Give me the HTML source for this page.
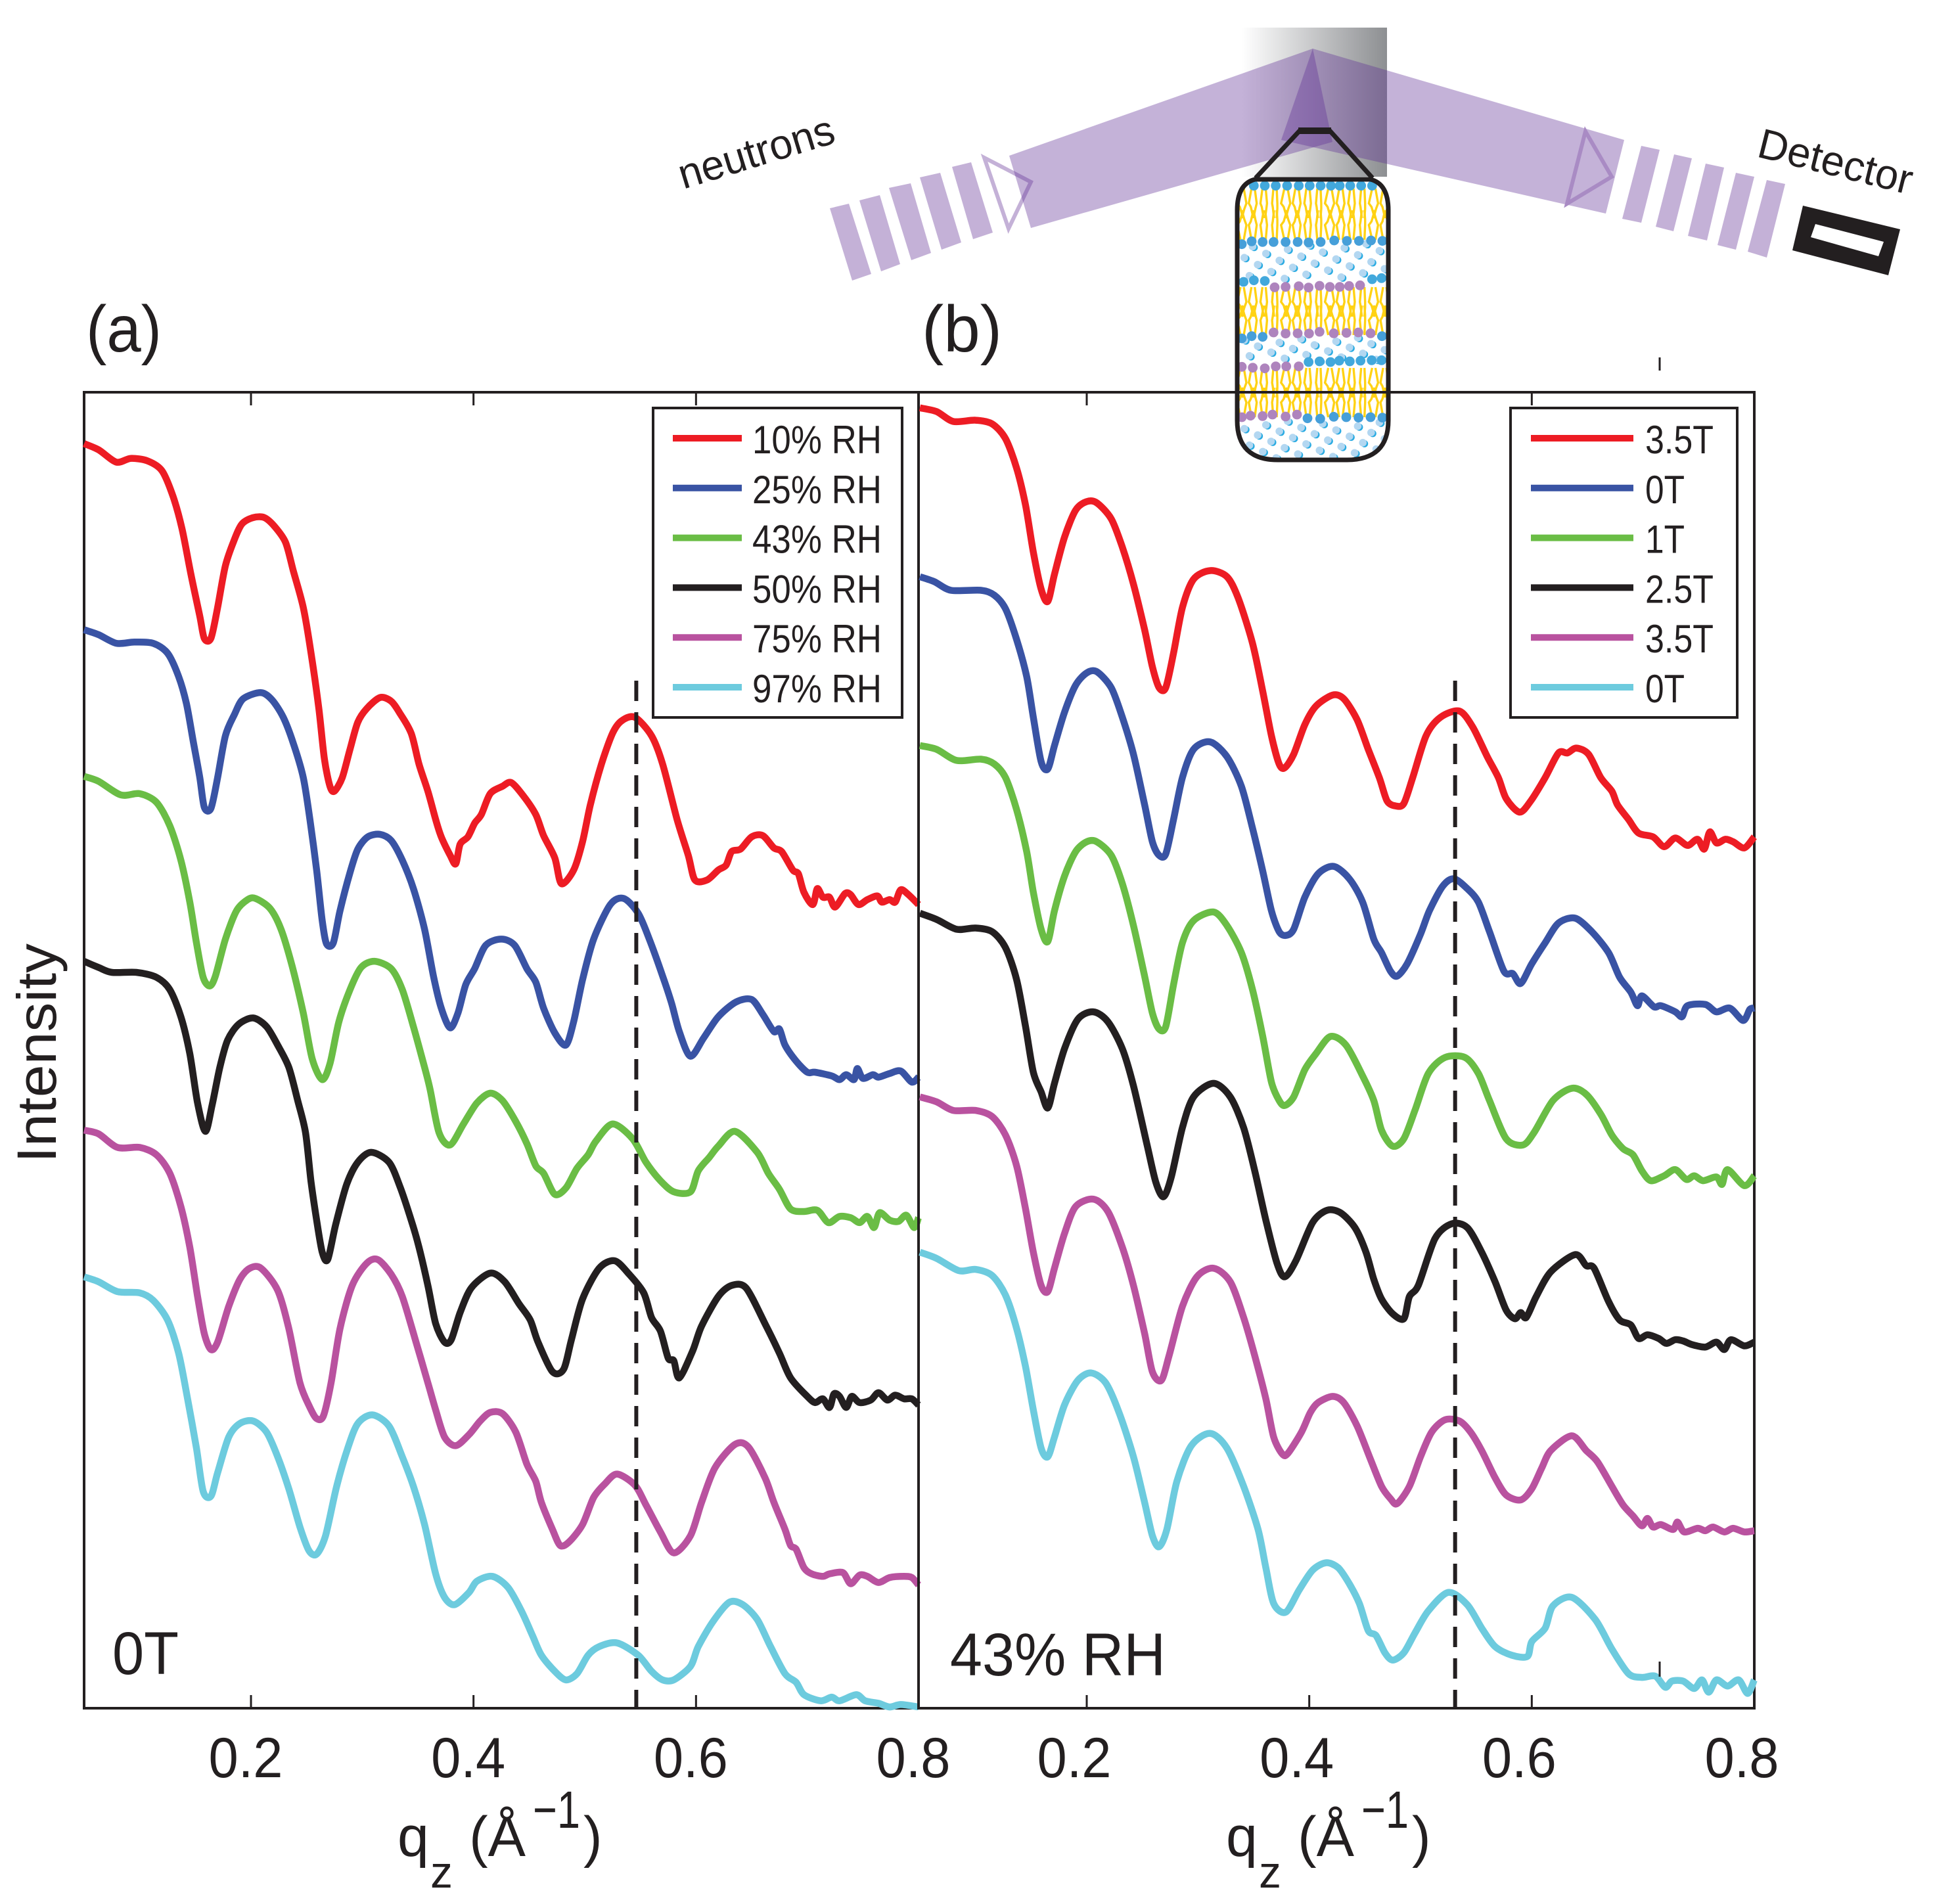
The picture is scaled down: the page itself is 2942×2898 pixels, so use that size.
<!DOCTYPE html>
<html lang="en">
<head>
<meta charset="utf-8">
<title>Neutron reflectivity curves</title>
<style>
html,body{margin:0;padding:0;background:#fff;}
svg{display:block;}
text{font-family:"Liberation Sans",sans-serif;fill:#231f20;}
</style>
</head>
<body>
<svg id="fig" xmlns="http://www.w3.org/2000/svg" width="2942" height="2898" viewBox="0 0 2942 2898">
<defs>
<linearGradient id="substrateGrad" x1="0" x2="1" y1="0" y2="0">
<stop offset="0" stop-color="#ffffff"/>
<stop offset="1" stop-color="#8d8f92"/>
</linearGradient>
<clipPath id="capsuleClip"><path d="M1910,273 L2086,273 Q2113,280 2113,320 L2113,640 Q2113,700 2050,700 L1945,700 Q1883,700 1883,640 L1883,320 Q1883,280 1910,273 Z"/></clipPath>
</defs>

<g id="panel-a"></g>
<g id="panel-b"></g>

<g>
<rect x="994" y="621" width="379" height="471" fill="#fff" stroke="#231f20" stroke-width="4"/>
<g id="legend-a-entries"></g>
</g>
<g>
<rect x="2299" y="621" width="345" height="471" fill="#fff" stroke="#231f20" stroke-width="4"/>
<g id="legend-b-entries"></g>
</g>

<text x="131" y="535" font-size="100" textLength="115" lengthAdjust="spacingAndGlyphs">(a)</text>
<text x="1403" y="535" font-size="100" textLength="122" lengthAdjust="spacingAndGlyphs">(b)</text>
<text x="171" y="2548" font-size="92" textLength="101" lengthAdjust="spacingAndGlyphs">0T</text>
<text x="1446" y="2550" font-size="92" textLength="328" lengthAdjust="spacingAndGlyphs">43% RH</text>
<text transform="translate(85,1770) rotate(-90)" font-size="84" textLength="334" lengthAdjust="spacingAndGlyphs">Intensity</text>

<g>
<text x="605" y="2825" font-size="86">q</text>
<text x="655" y="2873" font-size="68">z</text>
<text x="714" y="2825" font-size="86">(Å</text>
<text x="811" y="2782" font-size="80" textLength="72" lengthAdjust="spacingAndGlyphs">−1</text>
<text x="888" y="2825" font-size="86">)</text>
</g>
<g>
<text x="1866" y="2825" font-size="86">q</text>
<text x="1916" y="2873" font-size="68">z</text>
<text x="1975" y="2825" font-size="86">(Å</text>
<text x="2072" y="2782" font-size="80" textLength="72" lengthAdjust="spacingAndGlyphs">−1</text>
<text x="2149" y="2825" font-size="86">)</text>
</g>

<line x1="2526" x2="2526" y1="544" y2="564" stroke="#231f20" stroke-width="3"/>
<line x1="2526" x2="2526" y1="2529" y2="2552" stroke="#231f20" stroke-width="3"/>

<g id="schematic">
<rect x="1890" y="42" width="221" height="227" fill="url(#substrateGrad)"/>
<g fill="#c4b1d7">
<polygon points="1263,317 1292,310 1326,417 1297,427"/>
<polygon points="1308,305 1339,297 1370,402 1341,413"/>
<polygon points="1353,286 1386,279 1417,385 1387,396"/>
<polygon points="1400,270 1431,263 1463,369 1433,380"/>
<polygon points="1449,254 1478,247 1511,354 1481,364"/>
</g>
<polygon points="1498,240 1569,277 1535,348" fill="#fff" stroke="#c4b1d7" stroke-width="6"/>
<polygon points="1536,237 1998,74 2028,216 1569,347" fill="#5f2f96" fill-opacity="0.37"/>
<polygon points="1998,74 2472,213 2444,325 1950,213" fill="#5f2f96" fill-opacity="0.37"/>
<polygon points="2413,200 2453,269 2385,310" fill="none" stroke="#a98bc4" stroke-width="6"/>
<g fill="#c4b1d7">
<polygon points="2498,222 2526,228 2498,339 2469,333"/>
<polygon points="2548,235 2575,241 2547,352 2520,345"/>
<polygon points="2596,249 2624,255 2598,366 2569,359"/>
<polygon points="2642,263 2670,269 2642,380 2614,373"/>
<polygon points="2689,274 2717,280 2689,392 2660,383"/>
</g>
<polygon points="2744,313 2892,349 2874,419 2728,381" fill="#231f20"/>
<polygon points="2763,341 2867,368 2859,390 2756,361" fill="#fff"/>
<text transform="translate(1040,288) rotate(-17)" font-size="64" textLength="245" lengthAdjust="spacingAndGlyphs">neutrons</text>
<text transform="translate(2672,238) rotate(14)" font-size="64" textLength="240" lengthAdjust="spacingAndGlyphs">Detector</text>
<polyline points="1911,271 1978,199 2024,199 2089,271" fill="none" stroke="#231f20" stroke-width="7"/>
<line x1="1976" x2="2026" y1="199" y2="199" stroke="#231f20" stroke-width="10"/>
<path d="M1910,273 L2086,273 Q2113,280 2113,320 L2113,640 Q2113,700 2050,700 L1945,700 Q1883,700 1883,640 L1883,320 Q1883,280 1910,273 Z" fill="#fff"/>
<g id="membrane" clip-path="url(#capsuleClip)"></g>
<path d="M1910,273 L2086,273 Q2113,280 2113,320 L2113,640 Q2113,700 2050,700 L1945,700 Q1883,700 1883,640 L1883,320 Q1883,280 1910,273 Z" fill="none" stroke="#231f20" stroke-width="7"/>
</g>
<line x1="128" x2="2670" y1="597" y2="597" stroke="#231f20" stroke-width="4"/>
</svg>
<script>
// ---------- panel (a): 0 T, varying humidity ----------
const qA10=[.05,.063,.079,.092,.107,.12,.13,.138,.146,.154,.158,.164,.17,.177,.185,.192,.202,.212,.221,.231,.238,.247,.254,.261,.266,.271,.275,.282,.289,.296,.304,.316,.326,.334,.344,.351,.359,.366,.371,.379,.384,.388,.395,.401,.407,.415,.426,.434,.445,.456,.463,.473,.479,.49,.498,.505,.515,.525,.533,.545,.56,.57,.583,.593,.599,.61,.62,.627,.632,.64,.65,.66,.67,.677,.687,.692,.697,.705,.709,.714,.72,.725,.734,.739,.746,.754,.763,.767,.774,.779,.784,.791,.8];
const intA10=[1026,1021,1011,1014,1012,1004,983,957,920,886,868,868,893,927,948,961,966,966,959,946,923,893,856,811,770,748,744,755,778,800,811,820,817,807,791,766,744,721,707,692,685,701,707,718,725,742,748,751,740,725,708,690,669,680,703,733,766,791,801,804,789,766,721,692,672,672,680,684,695,697,707,708,698,695,680,677,662,652,665,658,658,650,661,660,652,656,659,654,656,654,664,660,652];
const qA25=[.05,.063,.079,.095,.112,.125,.135,.142,.148,.154,.158,.164,.17,.177,.185,.193,.209,.219,.229,.238,.247,.253,.259,.264,.268,.274,.28,.289,.296,.305,.316,.326,.336,.346,.356,.364,.371,.379,.386,.393,.401,.411,.425,.437,.448,.456,.463,.473,.483,.49,.498,.508,.523,.535,.548,.558,.57,.578,.585,.595,.607,.62,.636,.65,.66,.67,.675,.68,.69,.7,.707,.722,.729,.735,.742,.745,.75,.759,.764,.774,.784,.794,.8];
const intA25=[875,871,864,865,864,856,837,815,785,755,731,730,755,789,806,819,824,818,804,783,755,721,680,639,620,621,647,678,697,707,709,704,688,665,632,594,568,552,564,587,600,619,624,619,600,589,568,548,538,557,591,624,652,657,645,624,594,572,549,529,544,561,573,575,563,549,551,538,525,516,516,513,510,514,510,519,511,514,512,515,517,508,512];
const qA43=[.05,.063,.083,.1,.115,.127,.137,.145,.151,.157,.163,.168,.177,.187,.197,.204,.217,.227,.237,.247,.255,.264,.271,.279,.289,.299,.311,.326,.336,.346,.356,.361,.369,.379,.391,.403,.415,.426,.438,.448,.456,.463,.473,.483,.493,.503,.51,.525,.543,.555,.568,.58,.595,.602,.612,.62,.635,.655,.665,.675,.685,.697,.709,.719,.729,.739,.747,.754,.76,.765,.774,.782,.789,.796,.8];
const intA43=[756,752,741,742,735,716,688,654,621,593,586,594,624,647,656,657,649,632,602,564,527,510,523,557,583,601,606,600,583,553,520,502,467,457,474,491,499,493,476,458,440,434,417,422,438,449,460,474,462,443,428,419,419,436,447,456,468,451,434,421,405,403,404,394,399,398,394,399,390,402,396,395,400,390,398];
const qA50=[.05,.063,.075,.097,.115,.127,.137,.145,.152,.159,.165,.172,.179,.189,.202,.214,.224,.234,.242,.249,.254,.259,.264,.269,.276,.286,.296,.308,.324,.334,.344,.351,.359,.366,.374,.38,.388,.398,.415,.428,.441,.451,.458,.471,.481,.488,.498,.513,.527,.54,.553,.56,.568,.575,.58,.585,.597,.605,.62,.632,.645,.662,.675,.685,.7,.707,.714,.72,.724,.729,.735,.74,.747,.757,.764,.772,.779,.787,.794,.8];
const intA50=[606,601,597,597,593,583,561,531,491,468,489,520,542,555,560,553,538,520,493,467,427,396,370,364,392,425,443,451,443,423,396,374,343,312,297,299,321,341,353,346,328,315,297,273,275,299,332,357,363,352,337,317,306,284,282,268,290,310,334,343,341,312,288,268,253,248,251,244,255,253,244,253,248,250,256,250,254,251,251,246];
const qA75=[.05,.063,.08,.1,.115,.127,.137,.145,.152,.158,.164,.17,.18,.19,.199,.209,.224,.234,.244,.253,.259,.265,.272,.28,.291,.304,.314,.326,.336,.349,.359,.366,.374,.384,.396,.406,.415,.426,.438,.448,.456,.461,.471,.478,.486,.498,.508,.518,.529,.545,.555,.568,.58,.595,.605,.617,.635,.647,.662,.67,.68,.685,.69,.697,.704,.714,.72,.732,.739,.747,.754,.764,.774,.787,.794,.8];
const intA75=[469,466,455,455,449,434,407,374,334,304,291,297,326,348,357,357,339,308,264,244,235,237,264,308,343,361,364,352,334,295,264,242,220,213,222,233,240,239,224,198,184,167,145,132,135,149,171,182,190,181,165,143,126,140,167,195,214,212,187,167,145,132,129,114,109,107,109,110,101,108,107,102,106,107,106,100];
const qA97=[.05,.063,.08,.1,.112,.125,.135,.143,.151,.157,.164,.17,.18,.19,.202,.214,.224,.234,.244,.252,.259,.267,.277,.287,.296,.309,.324,.336,.346,.356,.366,.374,.383,.396,.403,.417,.431,.443,.453,.461,.473,.483,.493,.503,.513,.529,.548,.56,.57,.58,.595,.602,.615,.63,.642,.655,.667,.68,.69,.697,.712,.722,.729,.744,.752,.764,.774,.784,.8];
const intA97=[350,346,338,337,331,315,288,251,211,176,172,191,220,231,233,224,204,178,147,128,125,140,180,211,231,238,229,204,180,149,109,90,84,94,103,107,98,79,59,43,30,23,28,43,50,53,43,30,23,23,34,50,70,86,84,72,50,28,21,11,6,9,6,11,6,4,1,3,1];

// ---------- panel (b): 43% RH, varying field ----------
const qB1=[.05,.065,.08,.1,.115,.127,.137,.145,.152,.159,.165,.171,.18,.19,.2,.209,.222,.232,.242,.252,.259,.265,.271,.278,.286,.296,.311,.326,.336,.349,.358,.366,.373,.378,.386,.396,.406,.421,.431,.443,.453,.463,.47,.478,.485,.493,.505,.518,.535,.547,.56,.57,.577,.589,.599,.612,.624,.632,.64,.651,.662,.672,.677,.687,.696,.709,.719,.729,.74,.749,.755,.76,.766,.774,.781,.791,.8];
const intB1=[1055,1052,1044,1045,1042,1030,1006,976,938,908,898,920,950,972,979,978,965,942,912,875,845,828,828,856,893,916,923,918,901,864,826,789,766,763,774,798,813,822,819,802,778,755,736,732,734,755,789,804,809,796,772,755,738,727,736,755,775,775,779,774,755,744,733,721,710,707,699,706,700,705,697,711,702,705,703,698,707];
const qB2=[.05,.063,.078,.105,.117,.127,.137,.146,.152,.159,.165,.171,.18,.19,.2,.209,.222,.232,.242,.252,.259,.265,.271,.278,.286,.296,.311,.326,.339,.349,.358,.366,.373,.379,.386,.396,.408,.422,.436,.448,.458,.465,.473,.479,.488,.5,.508,.52,.53,.542,.552,.562,.575,.583,.59,.6,.612,.624,.639,.654,.669,.679,.689,.695,.699,.71,.716,.729,.735,.74,.756,.766,.778,.79,.796,.8];
const intB2=[918,914,907,907,903,892,867,837,804,768,762,781,808,830,840,841,828,804,774,733,703,692,693,721,755,778,784,772,748,714,680,647,630,627,632,658,677,683,673,654,624,613,598,594,604,628,647,667,673,665,654,630,598,596,588,604,621,637,641,630,613,593,581,570,578,569,570,565,561,570,571,565,568,558,567,568];
const qB3=[.05,.065,.083,.105,.117,.127,.137,.146,.152,.159,.165,.171,.18,.19,.2,.209,.222,.232,.242,.252,.259,.265,.271,.278,.286,.296,.314,.326,.339,.349,.358,.366,.373,.378,.386,.396,.406,.419,.433,.448,.458,.465,.475,.485,.495,.507,.522,.54,.552,.562,.577,.592,.602,.619,.636,.649,.662,.672,.682,.691,.699,.707,.719,.729,.739,.746,.754,.766,.771,.776,.791,.8];
const intB3=[781,778,769,770,766,755,729,695,662,632,622,647,675,695,703,703,692,669,635,594,564,551,553,587,621,639,646,635,613,583,546,508,493,489,496,518,531,545,538,513,493,469,456,462,485,515,528,528,515,493,462,457,467,493,503,498,482,465,454,449,436,428,432,437,429,432,428,431,425,437,424,432];
const qB4=[.05,.065,.083,.1,.115,.127,.137,.145,.152,.159,.165,.171,.18,.192,.206,.219,.232,.242,.254,.262,.269,.276,.286,.296,.314,.329,.341,.351,.361,.371,.378,.388,.403,.416,.428,.441,.451,.458,.465,.475,.485,.49,.498,.513,.528,.542,.555,.567,.577,.585,.59,.595,.604,.617,.639,.649,.656,.669,.679,.689,.696,.704,.714,.721,.729,.736,.744,.756,.766,.773,.779,.791,.8];
const intB4=[645,640,632,633,630,617,591,553,516,500,487,507,535,559,565,557,535,505,458,427,415,431,471,496,507,496,471,436,396,361,350,363,394,404,402,390,370,348,332,320,316,334,343,381,393,390,370,346,323,316,321,317,334,354,368,359,357,330,315,311,300,303,300,296,299,298,295,293,297,291,299,294,297];
const qB5=[.05,.065,.08,.1,.115,.127,.137,.145,.152,.159,.165,.171,.18,.19,.206,.219,.232,.242,.252,.259,.267,.274,.286,.299,.314,.329,.341,.351,.361,.368,.376,.381,.393,.401,.408,.421,.431,.443,.455,.465,.473,.479,.49,.5,.51,.522,.535,.545,.555,.567,.577,.59,.6,.609,.617,.636,.649,.659,.672,.682,.691,.699,.704,.709,.716,.727,.731,.737,.749,.756,.763,.773,.781,.791,.8];
const intB5=[496,492,485,485,480,465,440,405,370,343,338,357,385,407,413,403,374,343,304,273,266,286,326,350,357,346,317,286,251,220,206,207,224,240,248,253,248,229,202,180,170,166,180,204,224,234,233,224,209,187,173,169,178,195,209,221,209,200,180,165,156,148,154,147,149,145,151,143,146,144,147,143,146,143,144];
const qB6=[.05,.065,.085,.1,.115,.127,.137,.145,.152,.159,.165,.171,.18,.192,.204,.217,.229,.242,.252,.259,.265,.272,.281,.294,.311,.326,.341,.354,.361,.368,.379,.391,.403,.415,.426,.436,.445,.453,.46,.468,.475,.485,.495,.507,.525,.542,.555,.567,.582,.596,.6,.612,.619,.636,.657,.672,.687,.699,.711,.72,.726,.736,.746,.753,.759,.766,.776,.786,.794,.8];
const intB6=[370,365,355,356,351,335,308,277,242,211,204,220,246,266,272,264,240,204,167,140,131,145,184,213,223,211,180,145,114,85,78,96,112,118,114,101,85,63,59,45,39,45,61,79,94,84,65,50,43,42,54,65,83,90,72,48,28,25,26,17,22,22,16,23,13,23,18,23,12,23];

const xTickValues=[0.2,0.4,0.6,0.8];
const xTickLabels=['0.2','0.4','0.6','0.8'];
const legendLabelsA=['10% RH','25% RH','43% RH','50% RH','75% RH','97% RH'];
const legendLabelsB=['3.5T','0T','1T','2.5T','3.5T','0T'];
const seriesColors=['#ed1c24','#3953a4','#6abd45','#231f20','#b9529f','#6dcbde'];
const dashQA=0.5463;
const dashQB=0.5311;

const NS='http://www.w3.org/2000/svg';
const plotTop=597, plotBottom=2600;
const axisQMin=0.05, axisQSpan=0.75, panelWidth=1270;
function xAxisA(q){return 128+(q-axisQMin)/axisQSpan*panelWidth;}
function xAxisB(q){return 1398+(q-axisQMin)/axisQSpan*panelWidth+2;}
function yAxis(v){return plotBottom-v*1.876;}
function mk(tag,attrs,parent){
  const el=document.createElementNS(NS,tag);
  for(const k in attrs){el.setAttribute(k,attrs[k]);}
  parent.appendChild(el);
  return el;
}
function smoothPath(pts){
  let d='M'+pts[0][0].toFixed(1)+','+pts[0][1].toFixed(1);
  for(let i=0;i+1<pts.length;i++){
    const p0=pts[Math.max(i-1,0)],p1=pts[i],p2=pts[i+1],p3=pts[Math.min(i+2,pts.length-1)];
    const c1x=p1[0]+(p2[0]-p0[0])/7,c1y=p1[1]+(p2[1]-p0[1])/7;
    const c2x=p2[0]-(p3[0]-p1[0])/7,c2y=p2[1]-(p3[1]-p1[1])/7;
    d+=' C'+c1x.toFixed(1)+','+c1y.toFixed(1)+' '+c2x.toFixed(1)+','+c2y.toFixed(1)+' '+p2[0].toFixed(1)+','+p2[1].toFixed(1);
  }
  return d;
}

function drawPanel(parent,xFn,left,right,qSets,intSets,dashQ,tickShift,showTop,labels,legendParent,lineX1,lineX2,textX,widths){
  const frame=mk('rect',{x:left,y:plotTop,width:right-left,height:plotBottom-plotTop,fill:'none',stroke:'#231f20','stroke-width':4},parent);
  
  
  xTickValues.forEach(function(t,i){
    const px=xFn(t);
    if(i<3){
      const b=mk('line',{x1:px,x2:px,y1:plotBottom,y2:plotBottom-20,stroke:'#231f20','stroke-width':3},parent);
      
      
      if(showTop[i]){
        const tp=mk('line',{x1:px,x2:px,y1:plotTop,y2:plotTop+20,stroke:'#231f20','stroke-width':3},parent);
        
        
      }
    }
    const lab=mk('text',{x:px+tickShift,y:2705,'font-size':86,'text-anchor':'middle',textLength:113,lengthAdjust:'spacingAndGlyphs'},parent);
    lab.textContent=xTickLabels[i];
    
    
  });
  qSets.forEach(function(qs,s){
    const pts=qs.map(function(q,i){return [xFn(q),yAxis(intSets[s][i])];});
    const line=mk('path',{d:smoothPath(pts),fill:'none',stroke:seriesColors[s],'stroke-width':10.5,'stroke-linejoin':'round','stroke-linecap':'butt'},parent);
    
    
  });
  const dash=mk('line',{x1:xFn(dashQ),x2:xFn(dashQ),y1:1036,y2:plotBottom,stroke:'#231f20','stroke-width':6,'stroke-dasharray':'31 17'},parent);
  
  
  labels.forEach(function(txt,i){
    const ly=667+i*75.8;
    const sw=mk('line',{x1:lineX1,x2:lineX2,y1:ly,y2:ly,stroke:seriesColors[i],'stroke-width':10},legendParent);
    
    
    const t=mk('text',{x:textX,y:ly+23,'font-size':60,textLength:widths(txt),lengthAdjust:'spacingAndGlyphs'},legendParent);
    t.textContent=txt;
    
    
  });
}

drawPanel(document.getElementById('panel-a'),xAxisA,128,1398,
  [qA10,qA25,qA43,qA50,qA75,qA97],[intA10,intA25,intA43,intA50,intA75,intA97],
  dashQA,-8,[true,true,true],legendLabelsA,document.getElementById('legend-a-entries'),1024,1129,1145,function(){return 197;});
drawPanel(document.getElementById('panel-b'),xAxisB,1398,2670,
  [qB1,qB2,qB3,qB4,qB5,qB6],[intB1,intB2,intB3,intB4,intB5,intB6],
  dashQB,-19,[true,false,true],legendLabelsB,document.getElementById('legend-b-entries'),2330,2486,2504,function(t){return t.length>2?104:60;});

// ---------- membrane schematic ----------
const membrane=document.getElementById('membrane');
function tails(y0,y1){
  for(let x=1888;x<2112;x+=16.7){
    const h=y1-y0, k=Math.round((x-1888)/16.7)%4;
    const a=mk('polyline',{points:x+','+y0+' '+(x-5+k)+','+(y0+h*.5)+' '+(x-1)+','+(y0+h*.62)+' '+(x+4-k)+','+y1,fill:'none',stroke:'#ffd214','stroke-width':3.4},membrane);
    
    
    const b=mk('polyline',{points:(x+5)+','+y0+' '+(x+9-k)+','+(y0+h*.5)+' '+(x+6)+','+(y0+h*.68)+' '+(x+2+k)+','+y1,fill:'none',stroke:'#ffd214','stroke-width':3.4},membrane);
    
    
  }
}
function water(ymin,ymax,n,seed){
  for(let i=0;i<n;i++){
    const cx=1886+(((i+seed)*0.618034)%1)*226;
    const cy=ymin+(i+.5)/n*(ymax-ymin);
    const d=mk('circle',{cx:cx+2.5,cy:cy+1.5,r:5.5,fill:'#29abe2'},membrane);
    
    
    const e=mk('circle',{cx:cx,cy:cy,r:5.8,fill:'#b3d7f1'},membrane);
    
    
  }
}
function heads(list,fill){
  list.forEach(function(p){
    const c=mk('circle',{cx:1850+p[0]/3,cy:250+p[1]/3,r:7.4,fill:fill},membrane);
    
    
  });
}
tails(287,332);tails(365,320);tails(437,482);tails(510,465);tails(560,605);tails(635,590);
water(370,425,26,3);water(513,550,20,11);water(640,698,30,7);
const blue='#42a8dc',deep='#469fd9',purple='#ae84bd';
heads([[175,98],[225,98],[275,98],[327,98],[380,98],[430,98],[480,98],[527,98],[567,98],[615,98],[665,98],[715,98]],blue);
heads([[120,365],[165,352],[215,355],[265,355],[320,355],[375,355],[425,357],[480,355],[542,348],[600,350],[655,350],[710,348],[762,350]],deep);
heads([[128,537],[175,530],[225,533],[715,525],[758,520]],blue);
heads([[270,562],[320,560],[380,557],[425,563],[475,555],[522,560],[567,560],[610,556],[660,553]],purple);
heads([[120,795],[165,785],[215,788],[760,785]],deep);
heads([[265,768],[320,773],[375,772],[427,773],[475,765],[540,772],[598,770],[652,768],[708,772]],purple);
heads([[120,925],[170,929],[225,932],[275,923],[323,923],[380,923]],purple);
heads([[425,903],[475,900],[525,903],[565,897],[613,900],[662,897],[713,895],[758,895]],blue);
heads([[120,1155],[160,1148],[215,1150],[260,1143],[320,1152],[372,1143]],purple);
heads([[420,1160],[478,1162],[540,1153],[597,1155],[653,1157],[708,1155],[762,1157]],deep);
</script>
</body>
</html>
